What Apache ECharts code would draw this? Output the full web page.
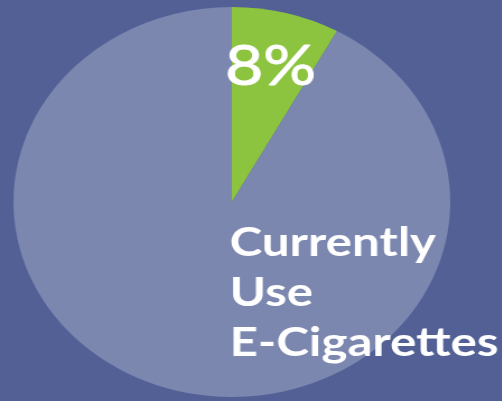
<!DOCTYPE html>
<html>
<head>
<meta charset="utf-8">
<script src="https://cdn.jsdelivr.net/npm/echarts@6/dist/echarts.min.js"></script>
<style>
  html, body { margin: 0; padding: 0; background: #526096; overflow: hidden; }
  /* the reference is stretched sideways, so the chart is drawn narrower and widened */
  #chart { width: 448px; height: 401px; transform: scaleX(1.12); transform-origin: 0 0; }
</style>
</head>
<body>
<div id="chart"></div>
<script>
// 数据
const categories = ['Currently Use E-Cigarettes', 'Do Not Use'];
const shares = [8, 92];
const sliceColors = ['#8cc43f', '#7b87af'];
const captionLines = ['Currently', 'Use', 'E-Cigarettes'];

const chart = echarts.init(document.getElementById('chart'));

chart.setOption({
  backgroundColor: '#526096',
  animation: false,
  series: [{
    type: 'pie',
    center: [207, 202],
    radius: 195,
    startAngle: 90,
    clockwise: true,
    silent: true,
    z: 1,
    label: { show: false },
    labelLine: { show: false },
    data: categories.map((name, i) => ({
      name,
      value: shares[i],
      itemStyle: { color: sliceColors[i] }
    }))
  }],
  graphic: [
    {
      type: 'text',
      z: 100,
      x: 201,
      y: 39,
      scaleX: 1.05,
      style: {
        text: `${shares[0]}%`,
        fill: '#ffffff',
        stroke: '#ffffff',
        lineWidth: 1,
        font: 'normal 56px Lato',
        align: 'left',
        verticalAlign: 'top'
      }
    },
    {
      type: 'text',
      z: 100,
      x: 205,
      y: 218,
      scaleX: 1.1,
      style: {
        text: captionLines.join('\n'),
        fill: '#ffffff',
        font: 'bold 40px Lato',
        lineHeight: 50,
        align: 'left',
        verticalAlign: 'top'
      }
    }
  ]
});
</script>
</body>
</html>
